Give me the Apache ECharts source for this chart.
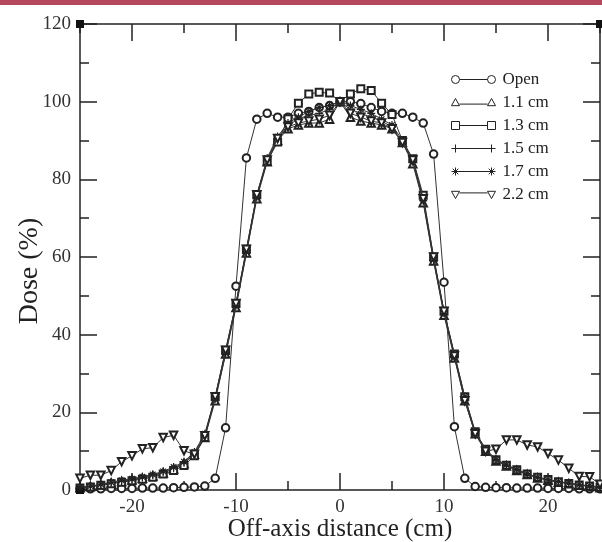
<!DOCTYPE html>
<html>
<head>
<meta charset="utf-8">
<script src="https://cdn.jsdelivr.net/npm/echarts@6/dist/echarts.min.js"></script>
<style>html,body{margin:0;padding:0;background:#fff;}#c{width:602px;height:542px;}</style>
</head>
<body>
<div id="c"></div>
<script>
// Off-axis positions (cm)
const xPos = [-25,-24,-23,-22,-21,-20,-19,-18,-17,-16,-15,-14,-13,-12,-11,-10,-9,-8,-7,-6,-5,-4,-3,-2,-1,0,1,2,3,4,5,6,7,8,9,10,11,12,13,14,15,16,17,18,19,20,21,22,23,24,25];
// Dose (%) per series
const openField = [0.3,0.3,0.3,0.4,0.4,0.4,0.5,0.5,0.5,0.6,0.7,0.8,1.0,3.0,16,52.5,85.5,95.5,97,96,96,97,97.5,98.5,99,100,100,99.5,98.5,97.5,97,97,96,94.5,86.5,53.5,16.3,3.0,0.9,0.7,0.6,0.6,0.5,0.5,0.5,0.4,0.4,0.4,0.3,0.3,0.3];
const cm11 = [0.6,0.9,1.3,1.8,2.2,2.6,3.0,3.6,4.4,5.4,6.8,9.2,13.5,23,35,47,61,75,84.5,90,93,94,94.5,94.5,95.5,100,96,95,94.5,94,93,89.5,84,74,59,45,34,23,14.5,10,7.5,6.2,5.0,4.0,3.1,2.5,2.0,1.6,1.2,0.9,0.6];
const cm13 = [0.5,0.8,1.2,1.6,2.0,2.4,2.8,3.3,4.1,5.0,6.3,8.8,13.5,24,36,48,62,76,84.6,89.6,95.6,99.6,102,102.4,102.2,100,102,103.3,102.9,99.6,96.7,90,85.3,75.9,60,46,35,24,15,10.5,7.8,6.4,5.2,4.1,3.3,2.7,2.1,1.7,1.3,1.0,0.7];
const cm15 = [0.6,0.9,1.4,1.9,2.3,2.7,3.2,3.8,4.6,5.6,7.0,9.4,14,23.5,35,47.5,61,75.5,85,90.5,94,95.5,96.5,97,98,100,98,97,96,95,93.5,89.5,84.5,74.5,59,45.5,34.5,23.5,14.5,10.2,7.6,6.3,5.1,4.0,3.2,2.6,2.1,1.7,1.3,1.0,0.7];
const cm17 = [0.7,1.0,1.5,2.0,2.5,2.9,3.4,4.0,4.8,5.9,7.3,9.8,14.5,24,35.5,48,61.5,76,85.5,91,94.5,96,97.5,98.5,99,100,99,98,97,95.5,94,90,85,75,59.5,46,35,24,15,10.5,7.9,6.5,5.3,4.2,3.3,2.7,2.2,1.8,1.4,1.1,0.8];
const cm22 = [3.0,3.8,3.8,5.0,7.3,8.8,10.6,10.9,13.5,14.1,10.1,9.2,14,24,36,48,62,76,85,90.5,93.5,94.5,95,95.5,96.5,100,97,96,95,94.5,93,89.5,85,75,60,46,34.5,23,14.5,10,10.5,12.9,12.9,11.6,11.1,9.4,7.7,5.6,3.5,3.4,1.5];
const seriesNames = ['Open','1.1 cm','1.3 cm','1.5 cm','1.7 cm','2.2 cm'];
const xMajorTicks = [-20,-10,0,10,20];

const seriesValues = [openField, cm11, cm13, cm15, cm17, cm22];
const symbols = [
  'emptyCircle',
  'emptyTriangle',
  'emptyRect',
  'path://M0,5H10M5,0V10',
  'path://M0,5H10M5,0V10M1.5,1.5L8.5,8.5M1.5,8.5L8.5,1.5',
  'emptyTriangle'
];
const symbolRot = [0,0,0,0,0,180];
const symbolSizes = [7.5,7.5,7,8,8,7.5];
const legendIcons = [
  'path://M0,5a5,5 0 1,0 10,0a5,5 0 1,0 -10,0M10,5L45,5M45,5a5,5 0 1,0 10,0a5,5 0 1,0 -10,0',
  'path://M0,9L5,0L10,9ZM10,7L45,7M45,9L50,0L55,9ZM0,10',
  'path://M0,0h10v10h-10ZM10,5H45M45,0h10v10h-10Z',
  'path://M0,5H55M5,0V10M50,0V10',
  'path://M0,5H55M5,0V10M1.5,1.5L8.5,8.5M1.5,8.5L8.5,1.5M50,0V10M46.5,1.5L53.5,8.5M46.5,8.5L53.5,1.5',
  'path://M0,1L10,1L5,10ZM10,3H45M45,1L55,1L50,10ZM0,0'
];

const serif = '"Liberation Serif", "DejaVu Serif", serif';
const ink = '#222';

const series = seriesNames.map((name, i) => {
  const isPath = symbols[i].indexOf('path://') === 0;
  return {
    name: name,
    type: 'line',
    xAxisIndex: 0,
    yAxisIndex: 0,
    data: xPos.map((x, k) => [x, seriesValues[i][k]]),
    symbol: symbols[i],
    symbolSize: symbolSizes[i],
    symbolRotate: symbolRot[i],
    showAllSymbol: true,
    clip: false,
    lineStyle: { color: '#333', width: 1 },
    itemStyle: isPath
      ? { color: ink, borderColor: ink, borderWidth: 1.2 }
      : { color: ink, borderColor: ink, borderWidth: 1 },
    emphasis: { disabled: true },
    animation: false,
    z: 2 + i
  };
});
series[0].markPoint = {
  symbol: 'rect',
  symbolSize: 8,
  itemStyle: { color: '#111' },
  label: { show: false },
  data: [{ coord: [-25, 120] }, { coord: [25, 120] }, { coord: [-25, 0] }],
  animation: false
};

const axisLine = { show: true, onZero: false, lineStyle: { color: ink, width: 1.5 } };
const noLine = { show: false, onZero: false };
const tickStyle = { color: ink, width: 1.5 };

const option = {
  backgroundColor: '#fff',
  animation: false,
  graphic: [
    { type: 'rect', left: 0, top: 0, shape: { width: 602, height: 5 }, style: { fill: '#b4475b' }, silent: true }
  ],
  grid: { left: 80, right: 2, top: 24, bottom: 52, containLabel: false, outerBoundsMode: 'none' },
  legend: {
    orient: 'vertical',
    left: 446,
    top: 66,
    itemWidth: 44,
    itemHeight: 8,
    itemGap: 6,
    selectedMode: false,
    textStyle: { fontFamily: serif, fontSize: 17, color: ink, padding: [0, 0, 0, 2], lineHeight: 17 },
    data: seriesNames.map((n, i) => ({
      name: n,
      icon: legendIcons[i],
      itemStyle: { color: '#fff', borderColor: ink, borderWidth: 1 }
    }))
  },
  xAxis: [
    {
      type: 'value', min: -25, max: 25, interval: 5, position: 'bottom',
      axisLine: axisLine,
      axisTick: { show: true, inside: true, length: 9, lineStyle: tickStyle },
      axisLabel: {
        fontFamily: serif, fontSize: 19, color: '#333', margin: 8,
        formatter: v => (v % 10 === 0 ? String(v) : '')
      },
      splitLine: { show: false },
      name: 'Off-axis distance (cm)', nameLocation: 'middle', nameGap: 27, nameMoveOverlap: false,
      nameTextStyle: { fontFamily: serif, fontSize: 25, color: ink }
    },
    {
      type: 'value', min: -25, max: 25, interval: 5, position: 'bottom',
      axisLine: noLine,
      axisTick: { show: true, inside: true, length: 17, lineStyle: tickStyle, customValues: xMajorTicks },
      axisLabel: { show: false }, splitLine: { show: false }
    },
    {
      type: 'value', min: -25, max: 25, interval: 5, position: 'top',
      axisLine: axisLine,
      axisTick: { show: true, inside: true, length: 9, lineStyle: tickStyle },
      axisLabel: { show: false }, splitLine: { show: false }
    },
    {
      type: 'value', min: -25, max: 25, interval: 5, position: 'top',
      axisLine: noLine,
      axisTick: { show: true, inside: true, length: 17, lineStyle: tickStyle, customValues: xMajorTicks },
      axisLabel: { show: false }, splitLine: { show: false }
    }
  ],
  yAxis: [
    {
      type: 'value', min: 0, max: 120, interval: 20, position: 'left',
      axisLine: axisLine,
      axisTick: { show: true, inside: true, length: 17, lineStyle: tickStyle },
      minorTick: { show: true, splitNumber: 2, length: 9, lineStyle: tickStyle },
      axisLabel: { fontFamily: serif, fontSize: 19, color: '#333', margin: 9 },
      splitLine: { show: false },
      name: 'Dose (%)', nameLocation: 'middle', nameGap: 36, nameRotate: 90, nameMoveOverlap: false,
      nameTextStyle: { fontFamily: serif, fontSize: 28, color: ink, padding: [0, 28, 0, 0] }
    },
    {
      type: 'value', min: 0, max: 120, interval: 20, position: 'right',
      axisLine: axisLine,
      axisTick: { show: true, inside: true, length: 17, lineStyle: tickStyle },
      minorTick: { show: true, splitNumber: 2, length: 9, lineStyle: tickStyle },
      axisLabel: { show: false }, splitLine: { show: false }
    }
  ],
  series: series
};

const chart = echarts.init(document.getElementById('c'), null, { renderer: 'canvas' });
chart.setOption(option);
</script>
</body>
</html>
